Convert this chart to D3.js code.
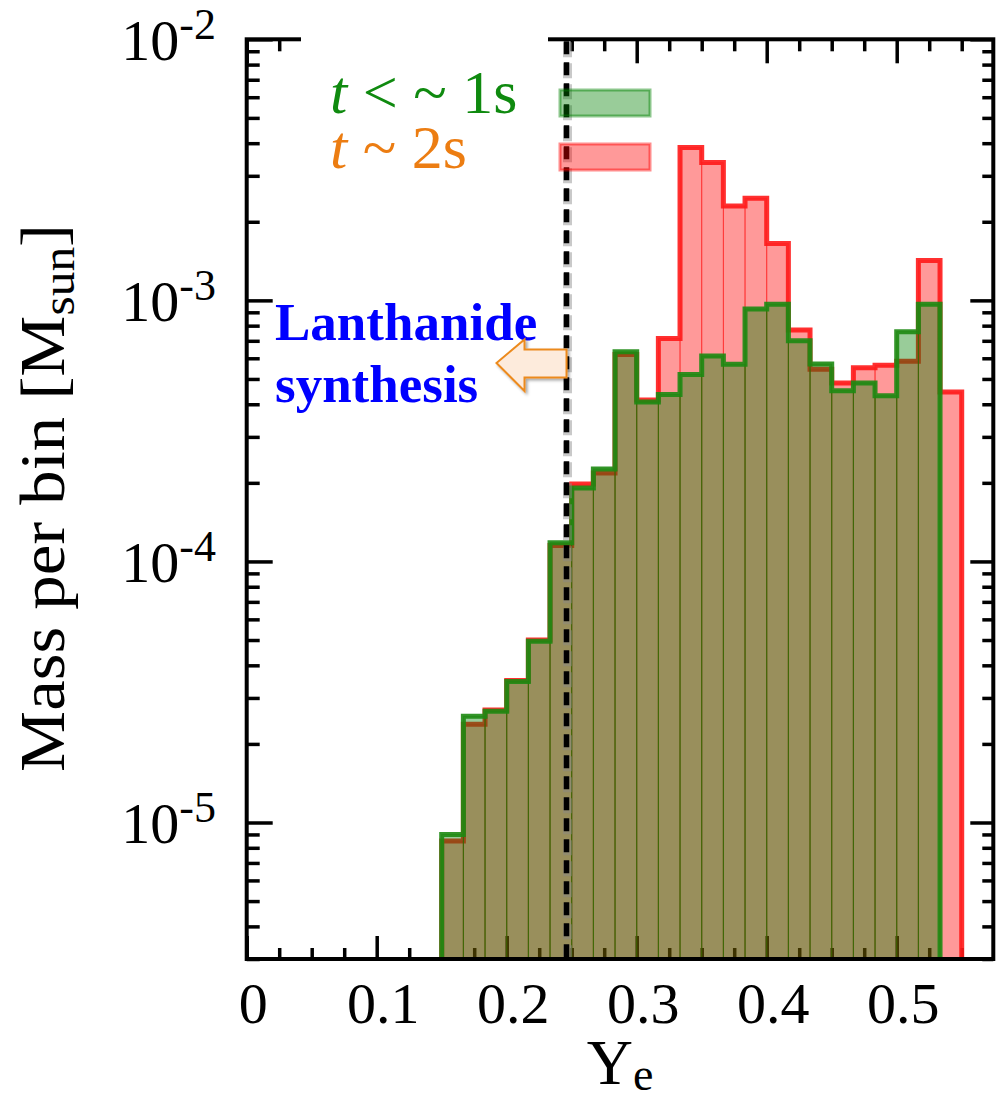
<!DOCTYPE html>
<html>
<head>
<meta charset="utf-8">
<script src="https://cdn.jsdelivr.net/npm/d3@7"></script>
<style>
  body { margin: 0; background: #fff; }
  svg { display: block; }
</style>
</head>
<body>
<div id="chart"></div>
<script>
// bin edges in Ye (width 1/60)
const binEdges = [0.15, 0.16667, 0.18333, 0.2, 0.21667, 0.23333, 0.25, 0.26667, 0.28333, 0.3,
  0.31667, 0.33333, 0.35, 0.36667, 0.38333, 0.4, 0.41667, 0.43333, 0.45, 0.46667,
  0.48333, 0.5, 0.51667, 0.53333, 0.55];

// mass per bin, t ~ 2s (red)
const massLate = [8.5e-6, 2.38e-5, 2.7e-5, 3.5e-5, 5.0e-5, 1.15e-4, 1.98e-4, 2.18e-4, 6.2e-4, 4.15e-4,
  7.15e-4, 3.85e-3, 3.37e-3, 2.30e-3, 2.46e-3, 1.65e-3, 7.7e-4, 5.45e-4, 4.83e-4, 5.52e-4,
  5.64e-4, 5.85e-4, 1.42e-3, 4.46e-4];

// mass per bin, t < ~1s (green)
const massEarly = [9.0e-6, 2.55e-5, 2.67e-5, 3.47e-5, 4.95e-5, 1.18e-4, 1.91e-4, 2.26e-4, 6.35e-4, 4.08e-4,
  4.36e-4, 5.2e-4, 6.12e-4, 5.69e-4, 9.27e-4, 9.66e-4, 7.0e-4, 5.7e-4, 4.51e-4, 4.83e-4,
  4.31e-4, 7.59e-4, 9.66e-4];

const xTickLabels = ["0", "0.1", "0.2", "0.3", "0.4", "0.5"];
const xMajor = [0, 0.1, 0.2, 0.3, 0.4, 0.5];
const yMajor = [1e-5, 1e-4, 1e-3, 1e-2];
const yExponents = ["-5", "-4", "-3", "-2"];
const lanthanideYe = 0.246;
const legendLabels = ["t < ~ 1s", "t ~ 2s"];

const width = 996, height = 1101;
const margin = { top: 39.3, right: 2.7, bottom: 142, left: 246.7 };
const serif = "'Liberation Serif', 'Times New Roman', serif";

const svg = d3.select("#chart").append("svg")
  .attr("width", width)
  .attr("height", height);

svg.append("rect").attr("width", width).attr("height", height).attr("fill", "#fff");

const x = d3.scaleLinear().domain([0, 0.5743]).range([margin.left, width - margin.right]);
const y = d3.scaleLog().domain([3e-6, 1e-2]).range([height - margin.bottom, margin.top]);
const x0 = margin.left, x1 = width - margin.right, y0 = height - margin.bottom, y1 = margin.top;

// ---- ticks (drawn under the histograms) ----
const xMinor = d3.range(0, 0.575, 0.025).filter(v => xMajor.every(m => Math.abs(m - v) > 1e-6));
const yMinor = y.ticks().filter(v => Math.abs(Math.log10(v) - Math.round(Math.log10(v))) > 1e-6);

function tickAxis(axis, tr) {
  const g = svg.append("g").attr("transform", tr).call(axis);
  g.select(".domain").remove();
  g.selectAll("text").remove();
  g.selectAll("line").attr("stroke", "#000").attr("stroke-width", 3.5);
  return g;
}
tickAxis(d3.axisBottom(x).tickValues(xMajor).tickSize(-23), `translate(0,${y0})`);
tickAxis(d3.axisBottom(x).tickValues(xMinor).tickSize(-11), `translate(0,${y0})`);
tickAxis(d3.axisTop(x).tickValues(xMajor).tickSize(-24), `translate(0,${y1})`);
tickAxis(d3.axisTop(x).tickValues(xMinor).tickSize(-12), `translate(0,${y1})`);
tickAxis(d3.axisLeft(y).tickValues(yMajor).tickSize(-26), `translate(${x0},0)`);
tickAxis(d3.axisLeft(y).tickValues(yMinor).tickSize(-13), `translate(${x0},0)`);
tickAxis(d3.axisRight(y).tickValues(yMajor).tickSize(-23), `translate(${x1},0)`);
tickAxis(d3.axisRight(y).tickValues(yMinor).tickSize(-11), `translate(${x1},0)`);

// ---- histograms ----
function histogram(values, fill, thin, line, lw, lineOpacity) {
  const g = svg.append("g");
  g.selectAll("rect").data(values).join("rect")
    .attr("x", (d, i) => x(binEdges[i]))
    .attr("width", (d, i) => x(binEdges[i + 1]) - x(binEdges[i]))
    .attr("y", d => y(d))
    .attr("height", d => y0 - y(d))
    .attr("fill", fill)
    .attr("stroke", thin)
    .attr("stroke-width", 1);
  const pts = [[binEdges[0], y.domain()[0]]];
  values.forEach((v, i) => { pts.push([binEdges[i], v]); pts.push([binEdges[i + 1], v]); });
  pts.push([binEdges[values.length], y.domain()[0]]);
  g.append("path")
    .attr("d", d3.line().x(d => x(d[0])).y(d => y(d[1]))(pts))
    .attr("fill", "none")
    .attr("stroke", line)
    .attr("stroke-opacity", lineOpacity)
    .attr("stroke-width", lw)
    .attr("stroke-linejoin", "miter");
}
histogram(massLate, "rgba(255,0,0,0.4)", "rgba(255,0,0,0.45)", "#ff1a1a", 5, 0.9);
histogram(massEarly, "rgba(0,128,0,0.4)", "rgba(40,110,0,0.6)", "#1d8a12", 5, 0.9);

// ---- dashed Ye line (grey halo under black dashes) ----
const defs = svg.append("defs");
defs.append("filter").attr("id", "shadow").attr("x", "-20%").attr("y", "-20%").attr("width", "150%").attr("height", "150%")
  .append("feDropShadow").attr("dx", 2).attr("dy", 2).attr("stdDeviation", 1.5)
  .attr("flood-color", "#000").attr("flood-opacity", 0.35);

const dashX = x(lanthanideYe);
svg.append("line")
  .attr("x1", dashX + 1).attr("x2", dashX + 1)
  .attr("y1", y1 + 3).attr("y2", y0 + 1)
  .attr("stroke", "#888").attr("stroke-opacity", 0.45).attr("stroke-width", 9)
  .attr("stroke-dasharray", "15,6");
svg.append("line")
  .attr("x1", dashX).attr("x2", dashX)
  .attr("y1", y1 + 2).attr("y2", y0)
  .attr("stroke", "#000").attr("stroke-width", 5.5)
  .attr("stroke-dasharray", "13,8");

// ---- frame ----
svg.append("rect")
  .attr("x", x0).attr("y", y1)
  .attr("width", x1 - x0).attr("height", y0 - y1)
  .attr("fill", "none").attr("stroke", "#000").attr("stroke-width", 4);

// legend background hides part of the top axis
svg.append("rect").attr("x", 301).attr("y", 30).attr("width", 247).attr("height", 150).attr("fill", "#fff");

// ---- tick labels ----
svg.append("g").selectAll("text").data(xMajor).join("text")
  .attr("x", d => x(d) + 6.5)
  .attr("y", y0 + 64)
  .attr("text-anchor", "middle")
  .attr("font-family", serif)
  .attr("font-size", 58)
  .text((d, i) => xTickLabels[i]);

const yl = svg.append("g").selectAll("text").data(yMajor).join("text")
  .attr("x", 216)
  .attr("y", d => y(d) + 21)
  .attr("text-anchor", "end")
  .attr("font-family", serif)
  .attr("font-size", 58);
yl.append("tspan").text("10");
yl.append("tspan").attr("dy", -21).attr("font-size", 44).text((d, i) => yExponents[i]);

// ---- axis titles ----
const xt = svg.append("text")
  .attr("x", 620).attr("y", 1084)
  .attr("text-anchor", "middle")
  .attr("font-family", serif)
  .attr("font-size", 64);
xt.append("tspan").text("Y");
xt.append("tspan").attr("dy", 6).attr("font-size", 46).text("e");

const yt = svg.append("text")
  .attr("transform", "translate(64,498) rotate(-90)")
  .attr("text-anchor", "middle")
  .attr("font-family", serif)
  .attr("font-size", 64)
  .attr("textLength", 548)
  .attr("lengthAdjust", "spacingAndGlyphs");
yt.append("tspan").text("Mass per bin [M");
yt.append("tspan").attr("dy", 10).attr("font-size", 46).text("sun");
yt.append("tspan").attr("dy", -10).text("]");

// ---- legend ----
const legendColors = ["#0f8a0f", "#ec7d12"];
const legendFill = ["rgba(0,128,0,0.4)", "rgba(255,0,0,0.4)"];
const legendStroke = ["rgba(0,128,0,0.45)", "rgba(255,0,0,0.45)"];
[113, 168].forEach((by, i) => {
  const t = svg.append("text")
    .attr("x", 330).attr("y", by)
    .attr("font-family", serif)
    .attr("font-size", 62)
    .attr("fill", legendColors[i]);
  t.append("tspan").attr("font-style", "italic").text(legendLabels[i].slice(0, 1));
  t.append("tspan").text(legendLabels[i].slice(1));
  svg.append("rect")
    .attr("x", 560).attr("y", by - 23 - (i ? 1 : 0))
    .attr("width", 90).attr("height", 26)
    .attr("fill", legendFill[i])
    .attr("stroke", legendStroke[i])
    .attr("stroke-width", 3);
});

// ---- lanthanide annotation ----
const ann = svg.append("text")
  .attr("font-family", serif)
  .attr("font-weight", "bold")
  .attr("font-size", 53)
  .attr("fill", "#0000ff");
ann.append("tspan").attr("x", 275).attr("y", 340).text("Lanthanide");
ann.append("tspan").attr("x", 275).attr("y", 402).text("synthesis");

const ax = dashX, ay = 363;
svg.append("path")
  .attr("d", `M${ax - 70},${ay} L${ax - 42},${ay - 23.5} L${ax - 42},${ay - 13.5} L${ax},${ay - 13.5} L${ax},${ay + 14.5} L${ax - 42},${ay + 14.5} L${ax - 42},${ay + 28} Z`)
  .attr("fill", "#fdebdc")
  .attr("stroke", "#ec8a1e")
  .attr("stroke-width", 2)
  .attr("filter", "url(#shadow)");
</script>
</body>
</html>
